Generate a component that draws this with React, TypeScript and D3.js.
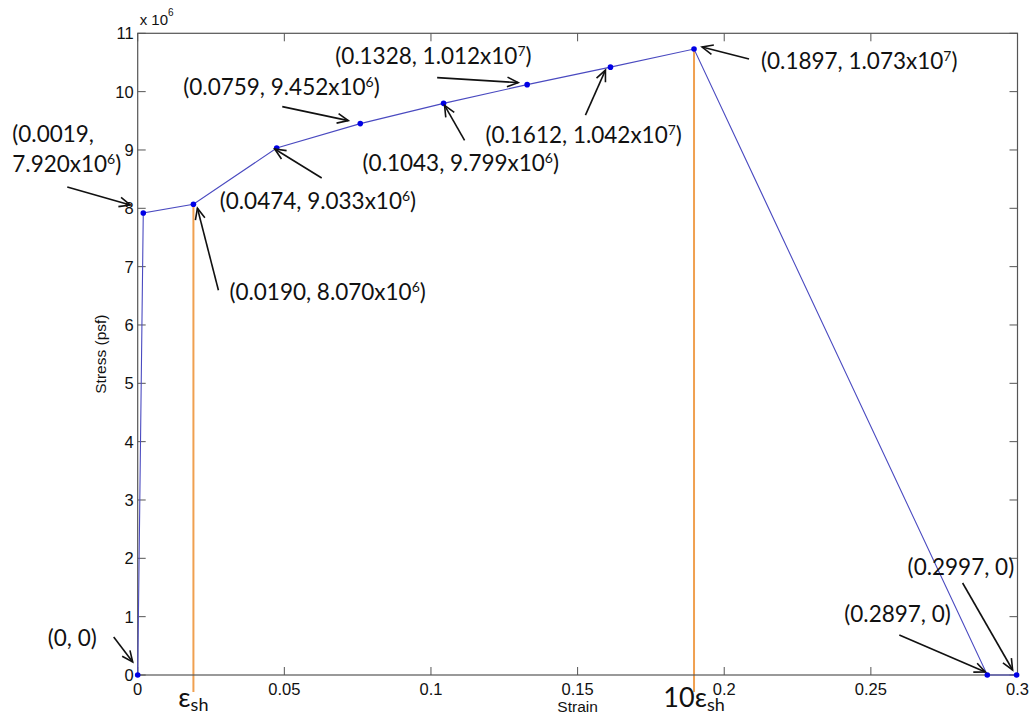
import React from 'react';
import * as d3 from 'd3';

// Piecewise stress-strain curve (strain, stress in psf)
const strain = [0, 0.0019, 0.019, 0.0474, 0.0759, 0.1043, 0.1328, 0.1612, 0.1897, 0.2897, 0.2997];
const stress = [0, 7.92e6, 8.07e6, 9.033e6, 9.452e6, 9.799e6, 1.012e7, 1.042e7, 1.073e7, 0, 0];

const xTicks = [0, 0.05, 0.1, 0.15, 0.2, 0.25, 0.3];
const yTicks = [0, 1, 2, 3, 4, 5, 6, 7, 8, 9, 10, 11];
const yScaleFactor = 1e6;

// Reference strains marked with vertical guides
const epsSh = 0.019;
const guideStrains = [epsSh, 10 * epsSh - 0.0003];
const guideLabels = ['', '10'];

// Label placement relative to each point: text offset, arrow tail and head offsets (px)
const labelLayout = [
  { tx: -90, ty: -37, ax: -24, ay: -38, hx: -5, hy: -13 },
  { tx: -131, ty: -78, ax: -76, ay: -26, hx: -13, hy: -8, split: true },
  { tx: 36, ty: 88, ax: 25, ay: 86, hx: 4, hy: 4 },
  { tx: -57, ty: 53, ax: 45, ay: 30, hx: -2, hy: 1 },
  { tx: -177, ty: -36, ax: -78, ay: -17, hx: -12, hy: -3 },
  { tx: -81, ty: 60, ax: 21, ay: 37, hx: 1, hy: 2 },
  { tx: -192, ty: -28, ax: -90, ay: -7, hx: -9, hy: -2 },
  { tx: -125, ty: 68, ax: -25, ay: 48, hx: -5, hy: 3 },
  { tx: 67, ty: 12, ax: 55, ay: 10, hx: 8, hy: -2 },
  { tx: -143, ty: -61, ax: -88, ay: -40, hx: -2, hy: -3 },
  { tx: -109, ty: -108, ax: -54, ay: -92, hx: -4, hy: -5 },
];

const W = 1032;
const H = 715;
const left = 137.7;
const right = 1017.5;
const top = 33.3;
const bottom = 675;

const x = d3.scaleLinear().domain([0, 0.3]).range([left, right]);
const y = d3.scaleLinear().domain([0, 11]).range([bottom, top]);

const fmtStrain = (s: number) => (s === 0 ? '0' : s.toFixed(4));
function fmtStress(v: number): { mant: string; exp: string } {
  if (v === 0) return { mant: '0', exp: '' };
  const e = Math.floor(Math.log10(v));
  return { mant: (v / Math.pow(10, e)).toFixed(3) + 'x10', exp: String(e) };
}

const ANN_FONT = 'Lato, "Open Sans", sans-serif';
const ANN_SIZE = 22.5;
const AX_FONT = '"Liberation Sans", Arial, sans-serif';

function Arrow({ x1, y1, x2, y2 }: { x1: number; y1: number; x2: number; y2: number }) {
  const ang = Math.atan2(y2 - y1, x2 - x1);
  const len = 12;
  const spread = (24 * Math.PI) / 180;
  const p1 = [x2 - len * Math.cos(ang - spread), y2 - len * Math.sin(ang - spread)];
  const p2 = [x2 - len * Math.cos(ang + spread), y2 - len * Math.sin(ang + spread)];
  return (
    <g stroke="#111" strokeWidth={1.6} fill="none">
      <line x1={x1} y1={y1} x2={x2} y2={y2} />
      <path d={`M${p1[0]},${p1[1]} L${x2},${y2} L${p2[0]},${p2[1]}`} />
    </g>
  );
}

export default function App() {
  const pts = strain.map((s, i) => ({ s, v: stress[i] / yScaleFactor, raw: stress[i] }));
  const line = d3
    .line<{ s: number; v: number }>()
    .x((d) => x(d.s))
    .y((d) => y(d.v));

  const tickLen = 8;

  return (
    <svg
      width={W}
      height={H}
      style={{ position: 'absolute', left: 0, top: 0, background: '#fff', display: 'block' }}
    >
      <rect x={0} y={0} width={W} height={H} fill="#fff" />

      {/* strain-hardening guides */}
      {guideStrains.map((g, i) => {
        const idx = i === 0 ? 2 : 8;
        return (
          <line
            key={'g' + i}
            x1={x(g)}
            x2={x(g)}
            y1={bottom + 17}
            y2={y(stress[idx] / yScaleFactor) + 1}
            stroke="#f0a050"
            strokeWidth={2}
          />
        );
      })}

      {/* axes box */}
      <rect x={left} y={top} width={right - left} height={bottom - top} fill="none" stroke="#555" strokeWidth={1.2} />
      {xTicks.map((t) => (
        <g key={'xt' + t}>
          <line x1={x(t)} x2={x(t)} y1={bottom} y2={bottom - tickLen} stroke="#555" />
          <line x1={x(t)} x2={x(t)} y1={top} y2={top + tickLen} stroke="#555" />
          <text x={x(t)} y={bottom + 20} textAnchor="middle" fontFamily={AX_FONT} fontSize={16.5} fill="#111">
            {String(t)}
          </text>
        </g>
      ))}
      {yTicks.map((t) => (
        <g key={'yt' + t}>
          <line x1={left} x2={left + tickLen} y1={y(t)} y2={y(t)} stroke="#555" />
          <line x1={right} x2={right - tickLen} y1={y(t)} y2={y(t)} stroke="#555" />
          <text x={left - 4} y={y(t) + 6} textAnchor="end" fontFamily={AX_FONT} fontSize={16.5} fill="#111">
            {String(t)}
          </text>
        </g>
      ))}
      <text x={left + 2} y={25} fontFamily={AX_FONT} fontSize={15} fill="#111">
        x 10
        <tspan dy={-9} fontSize={10}>
          6
        </tspan>
      </text>
      <text x={(left + right) / 2} y={712} textAnchor="middle" fontFamily={AX_FONT} fontSize={15.5} fill="#111">
        Strain
      </text>
      <text
        transform={`translate(106,${(top + bottom) / 2}) rotate(-90)`}
        textAnchor="middle"
        fontFamily={AX_FONT}
        fontSize={15.5}
        fill="#111"
      >
        Stress (psf)
      </text>

      {/* curve and points */}
      <path d={line(pts) || ''} fill="none" stroke="#4a4ac0" strokeWidth={1.1} />
      {pts.map((p, i) => (
        <circle key={'p' + i} cx={x(p.s)} cy={y(p.v)} r={2.8} fill="#0000e6" />
      ))}

      {/* guide labels */}
      {guideStrains.map((g, i) => (
        <text
          key={'gl' + i}
          x={x(g)}
          y={707}
          textAnchor="middle"
          fontFamily={ANN_FONT}
          fontSize={27}
          fill="#111"
        >
          {guideLabels[i]}ε
          <tspan dy={4} fontSize={18}>
            sh
          </tspan>
        </text>
      ))}

      {/* point annotations */}
      {pts.map((p, i) => {
        const L = labelLayout[i];
        const px = x(p.s);
        const py = y(p.v);
        const st = fmtStress(p.raw);
        const sx = fmtStrain(p.s);
        const tx = px + L.tx;
        const ty = py + L.ty + 7.5;
        const stressParts = (
          <>
            {st.mant}
            {st.exp && (
              <tspan dy={-8} fontSize={14}>
                {st.exp}
              </tspan>
            )}
            {st.exp ? <tspan dy={8}>)</tspan> : ')'}
          </>
        );
        return (
          <g key={'a' + i}>
            {L.split ? (
              <>
                <text x={tx} y={ty} fontFamily={ANN_FONT} fontSize={ANN_SIZE} fill="#111">
                  ({sx},
                </text>
                <text x={tx} y={ty + 30} fontFamily={ANN_FONT} fontSize={ANN_SIZE} fill="#111">
                  {stressParts}
                </text>
              </>
            ) : (
              <text x={tx} y={ty} fontFamily={ANN_FONT} fontSize={ANN_SIZE} fill="#111">
                ({sx}, {stressParts}
              </text>
            )}
            <Arrow x1={px + L.ax} y1={py + L.ay} x2={px + L.hx} y2={py + L.hy} />
          </g>
        );
      })}
    </svg>
  );
}
